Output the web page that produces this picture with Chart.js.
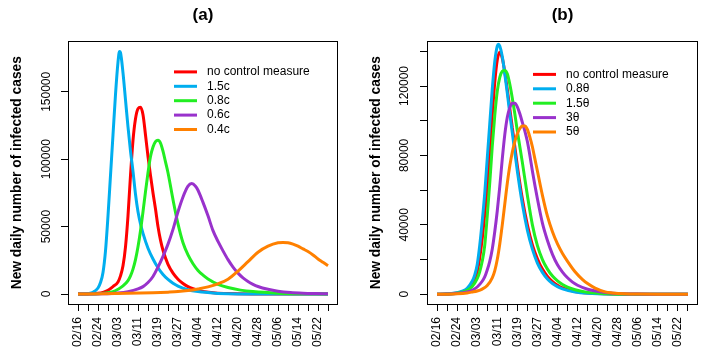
<!DOCTYPE html>
<html>
<head>
<meta charset="utf-8">
<script src="https://cdn.jsdelivr.net/npm/chart.js@4.4.0/dist/chart.umd.min.js"></script>
<style>
  html, body { margin: 0; padding: 0; background: #fff; }
  #wrap { position: relative; width: 709px; height: 355px; }
  .panel { position: absolute; top: 0; height: 355px; }
  #pa { left: 0; width: 355px; }
  #pb { left: 355px; width: 354px; }
</style>
</head>
<body>
<div id="wrap">
  <div class="panel" id="pa"><canvas id="chartA"></canvas></div>
  <div class="panel" id="pb"><canvas id="chartB"></canvas></div>
</div>
<script>
// days since 02/16 (2020), ticks every 4 days, labels every 8
var dateLabels = ['02/16','02/24','03/03','03/11','03/19','03/27','04/04','04/12','04/20','04/28','05/06','05/14','05/22'];
var tickDays = [];
for (var d = 0; d <= 100; d += 4) tickDays.push(d);

// panel (a): contact rate c
var seriesNamesA = ['no control measure', '1.5c', '0.8c', '0.6c', '0.4c'];
var yTicksA = [0, 50000, 100000, 150000];

var noControlA = [[0,0],[4,100],[8,500],[10,1200],[12,2800],[14,5500],[16,9000],[17,13500],[18,21000],[19,35000],[20,58000],[21,88000],[22,114000],[23,130000],[24,137500],[25,138500],[26,133000],[27,118000],[28,102000],[29,88000],[30,75000],[31,63000],[32,50000],[33,40000],[34,32500],[36,22000],[38,15500],[40,11000],[42,7800],[44,5500],[46,3900],[48,2700],[50,1900],[55,800],[60,350],[70,60],[80,10],[100,0]];
var c15A = [[0,0],[2,80],[4,350],[6,1300],[8,4500],[9,8500],[10,16000],[11,32000],[12,58000],[13,88000],[14,118000],[15,148000],[16,172000],[16.6,180000],[17,179000],[18,164000],[19,144000],[20,124000],[21,106000],[22,91000],[23,74000],[24,61000],[25,52000],[26,45000],[28,34000],[30,26000],[32,19500],[34,14500],[36,10800],[38,8000],[40,5900],[44,3200],[48,1800],[55,600],[60,250],[70,40],[80,5],[100,0]];
var c08A = [[0,0],[4,60],[8,250],[12,900],[14,1700],[16,3500],[18,6000],[20,10000],[21,13500],[22,18500],[23,25500],[24,35000],[25,47000],[26,61000],[27,76000],[28,90000],[29,102000],[30,109000],[31,113000],[32,114000],[33,112000],[34,106000],[35,98000],[36,90000],[38,70000],[40,52000],[42,38000],[44,29000],[46,22500],[48,17500],[50,14000],[52,11200],[56,7200],[60,4800],[65,2900],[70,1800],[80,650],[90,220],[100,80]];
var c06A = [[0,0],[10,200],[16,800],[20,1800],[24,3800],[26,5500],[28,8500],[30,13000],[32,20000],[34,28000],[36,37000],[38,48000],[40,61000],[42,72000],[44,80000],[45.5,82000],[47,80000],[48,77000],[50,68000],[52,58000],[54,47000],[56,39000],[58,32000],[60,25500],[62,20000],[64,15500],[66,12000],[68,9300],[70,7200],[72,5600],[76,3500],[80,2100],[85,1100],[90,600],[95,350],[100,200]];
var c04A = [[0,0],[10,200],[20,500],[30,1000],[36,1400],[40,1800],[44,2600],[48,3800],[52,5300],[56,7600],[60,11000],[64,17000],[68,24000],[72,31000],[76,35500],[80,38000],[82,38300],[84,38000],[86,37000],[88,35500],[90,33500],[92,31500],[94,29000],[96,26000],[98,23500],[100,21000]];

// panel (b): theta
var seriesNamesB = ['no control measure', '0.8\u03b8', '1.5\u03b8', '3\u03b8', '5\u03b8'];
var yTicksB = [0, 20000, 40000, 60000, 80000, 100000, 120000, 140000];

var noControlB = [[0,0],[4,150],[8,700],[10,1400],[12,2800],[14,6000],[15,8500],[16,13000],[17,21000],[18,32000],[19,46000],[20,62000],[21,82000],[22,103000],[23,122000],[24,135000],[25,139500],[26,136000],[27,128000],[28,118000],[29,107000],[30,96000],[31,85000],[32,74000],[34,55000],[36,40000],[38,28500],[40,20500],[42,14500],[44,10300],[46,7300],[48,5200],[50,3700],[55,1600],[60,700],[70,120],[80,20],[100,0]];
var t08B = [[0,0],[4,200],[8,900],[10,1800],[12,3500],[14,7500],[15,11000],[16,17000],[17,28000],[18,42000],[19,58000],[20,78000],[21,98000],[22,118000],[23,134000],[24,143000],[24.5,144000],[25,143000],[26,137000],[27,127000],[28,116000],[29,104000],[30,93000],[31,82000],[32,71000],[34,52000],[36,37000],[38,26000],[40,18000],[42,12600],[44,8800],[46,6200],[48,4400],[50,3100],[55,1300],[60,550],[70,90],[80,15],[100,0]];
var t15B = [[0,0],[4,150],[8,600],[10,1200],[12,2300],[14,4500],[16,9000],[17,13000],[18,19000],[19,28000],[20,45000],[21,64000],[22,85000],[23,103000],[24,117000],[25,125000],[26,128500],[27,129000],[28,127000],[29,121000],[30,113000],[31,104000],[32,94000],[33,85000],[34,76000],[36,57000],[38,40000],[40,28000],[42,20000],[44,14500],[46,10500],[48,7700],[50,5600],[52,4100],[55,2600],[60,1100],[70,230],[80,50],[100,0]];
var t3B = [[0,0],[4,100],[8,400],[12,1300],[14,2300],[16,4200],[18,7500],[19,10000],[20,14000],[21,19000],[22,26000],[23,36000],[24,48000],[25,62000],[26,78000],[27,92000],[28,102000],[29,107500],[30,110000],[31,110000],[32,108000],[33,104000],[34,99000],[35,94000],[36,88000],[37,80000],[38,71000],[40,55000],[42,41000],[44,31000],[46,23000],[48,17000],[50,12800],[52,9500],[54,7000],[56,5200],[60,2900],[65,1400],[70,650],[80,150],[90,40],[100,10]];
var t5B = [[0,0],[4,80],[8,300],[12,800],[14,1300],[16,1900],[18,3000],[20,5000],[22,9500],[23,13500],[24,20000],[25,29000],[26,40000],[27,52000],[28,64000],[29,74000],[30,82000],[31,88000],[32,92500],[33,95500],[34,97000],[35,97000],[36,95000],[37,90500],[38,85000],[39,78000],[40,71000],[42,57000],[44,45000],[46,36000],[48,29000],[50,23500],[52,19000],[55,13000],[58,8500],[60,6200],[63,3600],[67,1400],[70,800],[75,300],[80,120],[90,20],[100,0]];

var lineColors = ['#FF0000', '#00AEEF', '#22EE22', '#9932CC', '#FF8000'];
var FONT = '"Liberation Sans", Arial, sans-serif';

Chart.defaults.font.family = FONT;
Chart.defaults.color = '#000';

// R-style box, vertical y tick labels and an inset legend without frame
var rBox = {
  id: 'rBox',
  afterDraw: function(chart, args, opts) {
    var ctx = chart.ctx, a = chart.chartArea, ys = chart.scales.y;
    ctx.save();
    ctx.strokeStyle = '#000';
    ctx.lineWidth = 1;
    ctx.strokeRect(Math.round(a.left) + 0.5, Math.round(a.top) + 0.5,
                   Math.round(a.right - a.left) - 1, Math.round(a.bottom - a.top));

    ctx.font = '12px ' + FONT;
    ctx.fillStyle = '#000';
    ctx.textAlign = 'center';
    ctx.textBaseline = 'middle';
    ys.ticks.forEach(function(t) {
      if (t.value % opts.labelEvery !== 0) return;
      ctx.save();
      ctx.translate(a.left - opts.labelOffset, ys.getPixelForValue(t.value));
      ctx.rotate(-Math.PI / 2);
      ctx.fillText(String(t.value), 0, 0);
      ctx.restore();
    });

    ctx.textAlign = 'left';
    chart.data.datasets.forEach(function(ds, i) {
      var y = a.top + opts.top + i * opts.step;
      var x0 = a.left + opts.left;
      ctx.strokeStyle = ds.borderColor;
      ctx.lineWidth = 3;
      ctx.beginPath();
      ctx.moveTo(x0, y);
      ctx.lineTo(x0 + 23, y);
      ctx.stroke();
      ctx.fillText(ds.label, x0 + 33, y);
    });
    ctx.restore();
  }
};

function makePanel(id, title, names, series, yTicks, yMin, yMax, labelEvery, yWidth, labelOffset, titlePad, padRight, legendTop) {
  return new Chart(document.getElementById(id), {
    type: 'line',
    data: {
      datasets: series.map(function(s, i) {
        return {
          label: names[i],
          data: s.map(function(p) { return { x: p[0], y: p[1] }; }),
          borderColor: lineColors[i],
          borderWidth: 3,
          pointRadius: 0,
          cubicInterpolationMode: 'monotone',
          fill: false,
          order: series.length - i
        };
      })
    },
    options: {
      responsive: true,
      maintainAspectRatio: false,
      animation: false,
      devicePixelRatio: 1,
      layout: { padding: { left: 0, right: padRight, top: 0, bottom: 0 } },
      plugins: {
        legend: { display: false },
        tooltip: { enabled: false },
        title: {
          display: true,
          text: title,
          fullSize: false,
          color: '#000',
          font: { size: 17, weight: 'bold', family: FONT },
          padding: { top: 5, bottom: 16 }
        },
        rBox: { left: 106, top: legendTop, step: 14.4, labelEvery: labelEvery, labelOffset: labelOffset }
      },
      scales: {
        x: {
          type: 'linear',
          min: -4,
          max: 104,
          afterBuildTicks: function(s) { s.ticks = tickDays.map(function(v) { return { value: v }; }); },
          afterFit: function(s) { s.height = 51; },
          grid: { drawOnChartArea: false, drawTicks: true, tickLength: 7, tickColor: '#000' },
          border: { display: false },
          ticks: {
            minRotation: 90,
            maxRotation: 90,
            autoSkip: false,
            padding: 6,
            color: '#000',
            font: { size: 12, family: FONT },
            callback: function(v) { return v % 8 === 0 ? dateLabels[v / 8] : ''; }
          }
        },
        y: {
          type: 'linear',
          min: yMin,
          max: yMax,
          afterBuildTicks: function(s) { s.ticks = yTicks.map(function(v) { return { value: v }; }); },
          afterFit: function(s) { s.width = yWidth; },
          grid: { drawOnChartArea: false, drawTicks: true, tickLength: 7, tickColor: '#000' },
          border: { display: false },
          title: {
            display: true,
            text: 'New daily number of infected cases',
            color: '#000',
            font: { size: 13.75, weight: 'bold', family: FONT },
            padding: { top: titlePad, bottom: 0 }
          },
          ticks: { display: false }
        }
      }
    },
    plugins: [rBox]
  });
}

makePanel('chartA', '(a)', seriesNamesA, [noControlA, c15A, c08A, c06A, c04A],
          yTicksA, -7400, 187400, 50000, 68, 21, 9, 17, 30.5);
makePanel('chartB', '(b)', seriesNamesB, [noControlB, t08B, t15B, t3B, t5B],
          yTicksB, -5600, 145700, 40000, 72, 22, 13, 11, 33);
</script>
</body>
</html>
